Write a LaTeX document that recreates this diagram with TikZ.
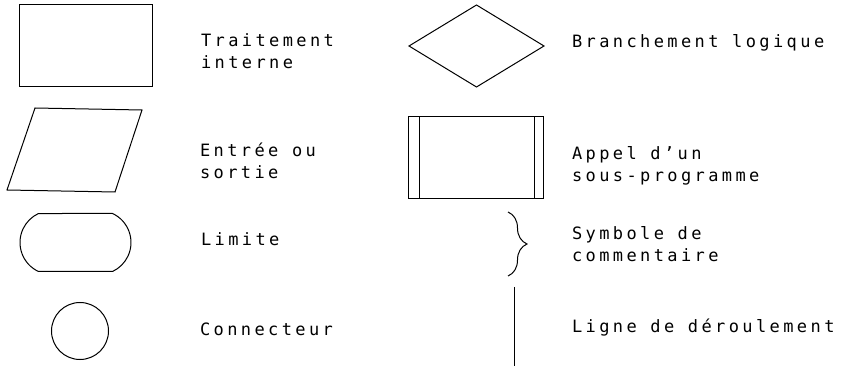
\documentclass[tikz,border=0pt]{standalone}
\usepackage{fontspec}
\newfontfamily\plotfont[LetterSpace=20]{DejaVu Sans Mono}
\usetikzlibrary{shapes.geometric,shapes.misc,decorations.pathreplacing}

\begin{document}
\begin{tikzpicture}[x=1pt,y=-1pt,line width=1pt,
  every node/.style={inner sep=0pt, outer sep=0pt},
  symbole/.style={draw, minimum width=133pt, minimum height=82pt},
  legende/.style={anchor=base west, align=left, font=\plotfont\fontsize{17}{22}\selectfont}]
\useasboundingbox (0,0) rectangle (844,366);

% colonne de gauche
\node[symbole] (traitement) at (85.5,46) {};
\draw (35,108) -- (142,110) -- (115,192) -- (7,190) -- cycle;
\node[draw, rounded rectangle, rounded rectangle arc length=130,
  minimum width=111pt, minimum height=58pt] (limite) at (75.5,242.5) {};
\node[draw, circle, minimum size=57pt] (connecteur) at (80,331) {};

\node[legende] (t1) at (201,69) {Traitement\\interne};
\node[legende] (t2) at (200,179) {Entrée ou\\sortie};
\node[legende] (t3) at (201,246) {Limite};
\node[legende] (t4) at (200,335) {Connecteur};

% colonne de droite
\node[draw, diamond, minimum width=135pt, minimum height=82pt] (branchement) at (476.5,46) {};
\node[symbole, minimum width=135pt] (appel) at (475.5,158) {};
\draw ([xshift=11pt]appel.north west) -- ([xshift=11pt]appel.south west);
\draw ([xshift=-9pt]appel.north east) -- ([xshift=-9pt]appel.south east);
\coordinate (b1) at (508,212);
\coordinate (b2) at (508,276);
\draw[decorate, decoration={brace, amplitude=19pt}] (b1) -- (b2);
\coordinate (l1) at (514,287);
\coordinate (l2) at (514,366);
\draw (l1) -- (l2);

\node[legende] (t5) at (572,48) {Branchement logique};
\node[legende] (t6) at (572,182) {Appel d’un\\sous-programme};
\node[legende] (t7) at (572,262) {Symbole de\\commentaire};
\node[legende] (t8) at (572,332) {Ligne de déroulement};
\end{tikzpicture}
\end{document}
